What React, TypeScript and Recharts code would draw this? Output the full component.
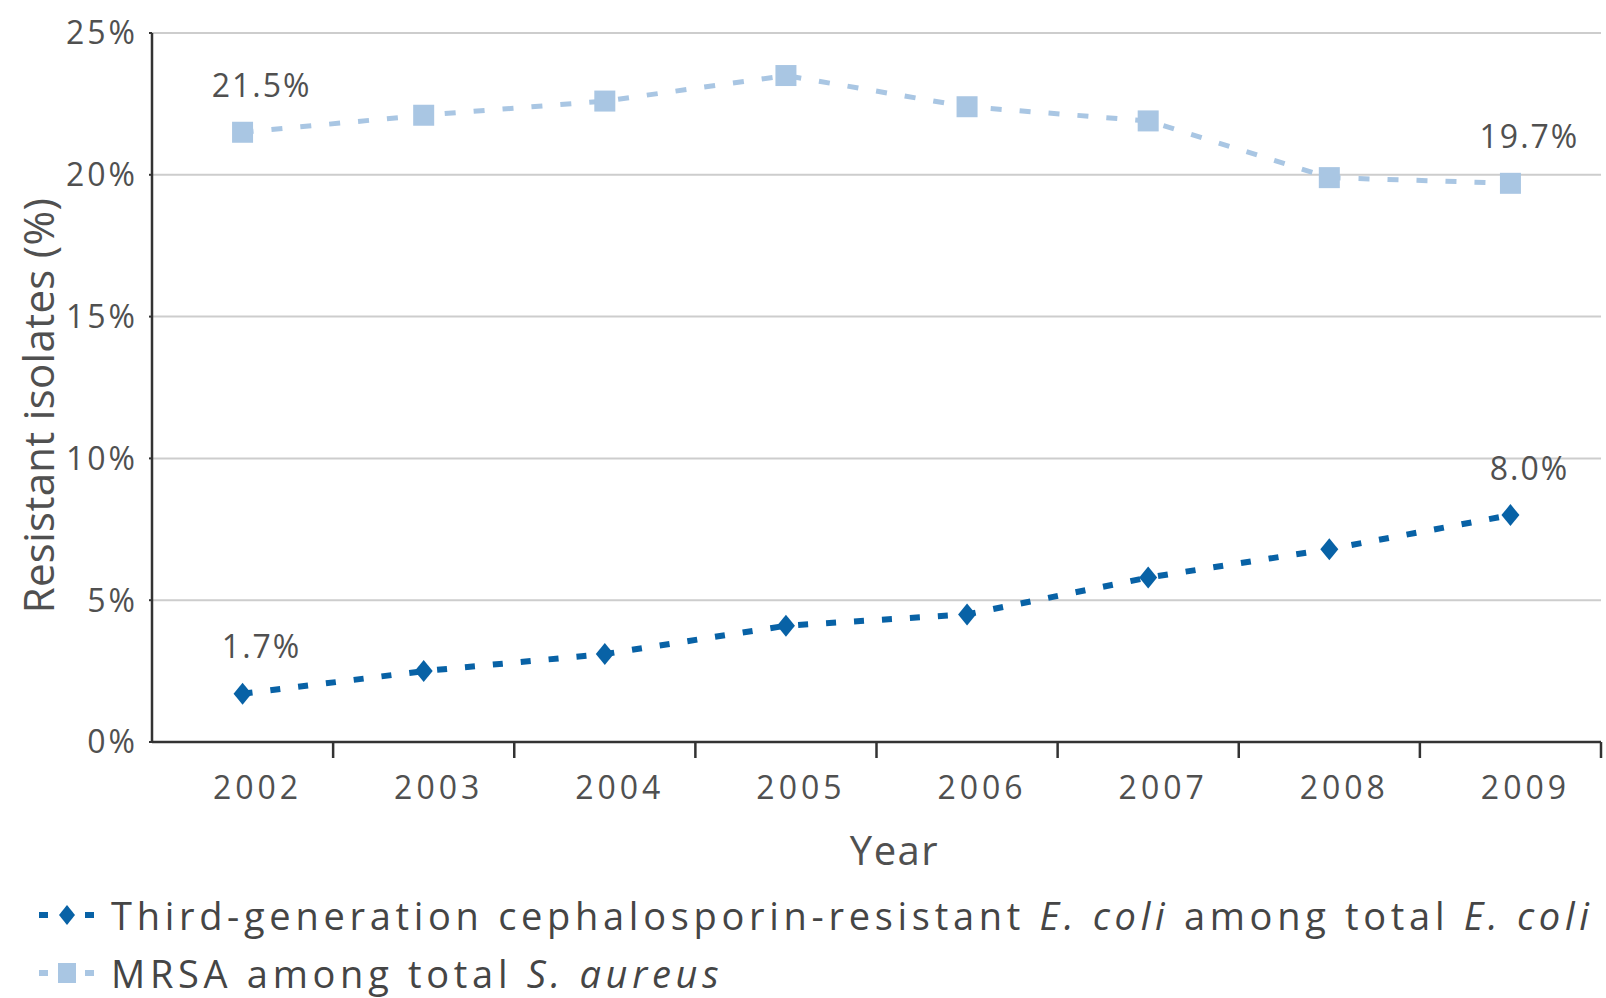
import React from 'react';
import { LineChart, Line, XAxis, YAxis, CartesianGrid, Legend, LabelList } from 'recharts';

const years = [2002, 2003, 2004, 2005, 2006, 2007, 2008, 2009];
const ecoliValues = [1.7, 2.5, 3.1, 4.1, 4.5, 5.8, 6.8, 8.0];
const mrsaValues = [21.5, 22.1, 22.6, 23.5, 22.4, 21.9, 19.9, 19.7];
const yTicks = [0, 5, 10, 15, 20, 25];
const yearBoundaries = [2002.5, 2003.5, 2004.5, 2005.5, 2006.5, 2007.5, 2008.5, 2009.5];
const xDomain = [2001.5, 2009.5];

const ECOLI_COLOR = '#0862a6';
const MRSA_COLOR = '#a9c6e3';
const FONT = '"Open Sans", "DejaVu Sans", sans-serif';
const TEXT = '#505050';

const data = years.map((year, i) => ({ year, ecoli: ecoliValues[i], mrsa: mrsaValues[i] }));
const xTicks = [...years, ...yearBoundaries].sort((a, b) => a - b);

const Diamond = (props: any) => {
  const { cx, cy } = props;
  if (cx == null || cy == null) return null;
  return (
    <polygon
      points={`${cx},${cy - 11} ${cx + 9},${cy} ${cx},${cy + 11} ${cx - 9},${cy}`}
      fill={ECOLI_COLOR}
    />
  );
};

const Square = (props: any) => {
  const { cx, cy } = props;
  if (cx == null || cy == null) return null;
  return <rect x={cx - 10.5} y={cy - 10.5} width={21} height={21} fill={MRSA_COLOR} />;
};

const makeEndLabel = (values: number[]) => (props: any) => {
  const { x, y, value, index } = props;
  const isEnd =
    index !== undefined ? index === 0 || index === values.length - 1 : value === values[0] || value === values[values.length - 1];
  if (!isEnd) return null;
  return (
    <text
      x={x + 19}
      y={y - 48}
      textAnchor="middle"
      dominantBaseline="central"
      fontFamily={FONT}
      fontSize={32}
      letterSpacing={2}
      fill={TEXT}
    >
      {Number(value).toFixed(1)}%
    </text>
  );
};

const YLabel = (props: any) => {
  const { viewBox } = props;
  const cx = viewBox.x + 37;
  const cy = viewBox.y + viewBox.height / 2 + 18;
  return (
    <text
      x={cx}
      y={cy}
      transform={`rotate(-90, ${cx}, ${cy})`}
      textAnchor="middle"
      dominantBaseline="central"
      fontFamily={FONT}
      fontSize={42}
      letterSpacing={0.3}
      fill={TEXT}
    >
      Resistant isolates (%)
    </text>
  );
};

const XTick = (props: any) => {
  const { x, y, payload } = props;
  const v = Number(payload.value);
  if (!years.includes(v)) {
    return <line x1={x} x2={x} y1={y} y2={y + 16} stroke="#333" strokeWidth={2.5} />;
  }
  return (
    <text
      x={x + 15}
      y={y + 34}
      dy="0.71em"
      textAnchor="middle"
      fontFamily={FONT}
      fontSize={32}
      letterSpacing={4}
      fill={TEXT}
    >
      {v}
    </text>
  );
};

const renderLegend = () => (
  <div
    style={{
      width: 1606,
      height: 131,
      paddingTop: 19,
      paddingLeft: 39,
      boxSizing: 'border-box',
      fontFamily: FONT,
      fontSize: 38,
      color: '#454545',
      letterSpacing: 4.7,
    }}
  >
    <div style={{ display: 'flex', alignItems: 'center', height: 58, whiteSpace: 'nowrap' }}>
      <svg width={56} height={30} style={{ marginRight: 16 }}>
        <rect x={0} y={12} width={9} height={6} fill={ECOLI_COLOR} />
        <polygon points="28,5 36,15 28,25 20,15" fill={ECOLI_COLOR} />
        <rect x={46} y={12} width={9} height={6} fill={ECOLI_COLOR} />
      </svg>
      <span>
        Third-generation cephalosporin-resistant <i>E. coli</i> among total <i>E. coli</i>
      </span>
    </div>
    <div style={{ display: 'flex', alignItems: 'center', height: 58, whiteSpace: 'nowrap' }}>
      <svg width={56} height={30} style={{ marginRight: 16 }}>
        <rect x={0} y={12} width={9} height={6} fill={MRSA_COLOR} />
        <rect x={19} y={5} width={18} height={20} fill={MRSA_COLOR} />
        <rect x={46} y={12} width={9} height={6} fill={MRSA_COLOR} />
      </svg>
      <span>
        MRSA among total <i>S. aureus</i>
      </span>
    </div>
  </div>
);

export default function App() {
  return (
    <div style={{ position: 'absolute', left: 0, top: 0, width: 1606, height: 998, background: '#fff' }}>
      <LineChart width={1606} height={998} data={data} margin={{ top: 33, right: 5, bottom: 0, left: 0 }}>
        <CartesianGrid horizontal vertical={false} stroke="#cdcdcd" strokeWidth={2} yAxisId="y" xAxisId="main" />
        <XAxis
          xAxisId="main"
          dataKey="year"
          type="number"
          domain={xDomain}
          ticks={xTicks}
          interval={0}
          height={125}
          axisLine={{ stroke: '#333', strokeWidth: 2.5 }}
          tickLine={false}
          tickSize={0}
          tickMargin={0}
          tick={<XTick />}
          label={{ value: 'Year', position: 'insideBottom', offset: 2, dx: 18, fontSize: 40, fill: TEXT, fontFamily: FONT, letterSpacing: 1.5 }}
        />
        <YAxis
          yAxisId="y"
          type="number"
          domain={[0, 25]}
          ticks={yTicks}
          interval={0}
          width={152}
          axisLine={{ stroke: '#333', strokeWidth: 2.5 }}
          tickLine={{ stroke: '#333', strokeWidth: 2 }}
          tickSize={3}
          tickMargin={11}
          tickFormatter={(v: number) => `${v}%`}
          tick={{ fontSize: 32, fill: TEXT, fontFamily: FONT, letterSpacing: 3 }}
          label={<YLabel />}
        />
        <Legend verticalAlign="bottom" align="left" content={renderLegend} wrapperStyle={{ left: 0 }} />
        <Line
          xAxisId="main"
          yAxisId="y"
          dataKey="mrsa"
          name="MRSA among total S. aureus"
          stroke={MRSA_COLOR}
          strokeWidth={5}
          strokeDasharray="11 18"
          dot={<Square />}
          activeDot={false}
          isAnimationActive={false}
        >
          <LabelList dataKey="mrsa" content={makeEndLabel(mrsaValues)} />
        </Line>
        <Line
          xAxisId="main"
          yAxisId="y"
          dataKey="ecoli"
          name="Third-generation cephalosporin-resistant E. coli among total E. coli"
          stroke={ECOLI_COLOR}
          strokeWidth={6}
          strokeDasharray="10 18"
          dot={<Diamond />}
          activeDot={false}
          isAnimationActive={false}
        >
          <LabelList dataKey="ecoli" content={makeEndLabel(ecoliValues)} />
        </Line>
      </LineChart>
    </div>
  );
}
